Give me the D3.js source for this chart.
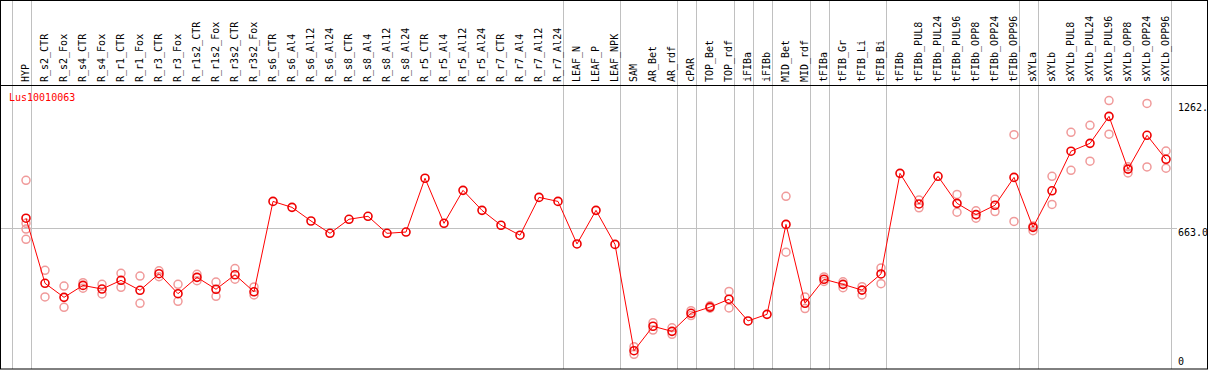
<!DOCTYPE html>
<html><head><meta charset="utf-8">
<script src="https://cdn.jsdelivr.net/npm/d3@7"></script>
<style>
html,body{margin:0;padding:0;background:#fff;}
svg{display:block;}
text{font-family:"DejaVu Sans Mono",monospace;font-size:10px;}
</style></head>
<body>
<svg id="c" width="1209" height="370"></svg>
<script>
const categories = ["HYP","R_s2_CTR","R_s2_Fox","R_s4_CTR","R_s4_Fox","R_r1_CTR","R_r1_Fox","R_r3_CTR","R_r3_Fox","R_r1s2_CTR","R_r1s2_Fox","R_r3s2_CTR","R_r3s2_Fox","R_s6_CTR","R_s6_Al4","R_s6_Al12","R_s6_Al24","R_s8_CTR","R_s8_Al4","R_s8_Al12","R_s8_Al24","R_r5_CTR","R_r5_Al4","R_r5_Al12","R_r5_Al24","R_r7_CTR","R_r7_Al4","R_r7_Al12","R_r7_Al24","LEAF_N","LEAF_P","LEAF_NPK","SAM","AR_Bet","AR_rdf","cPAR","TOP_Bet","TOP_rdf","iFIBa","iFIBb","MID_Bet","MID_rdf","tFIBa","tFIB_Gr","tFIB_Li","tFIB_Bi","tFIBb","tFIBb_PUL8","tFIBb_PUL24","tFIBb_PUL96","tFIBb_OPP8","tFIBb_OPP24","tFIBb_OPP96","sXYLa","sXYLb","sXYLb_PUL8","sXYLb_PUL24","sXYLb_PUL96","sXYLb_OPP8","sXYLb_OPP24","sXYLb_OPP96"];

const means = [709,403,337,393,376,417,370,448,354,431,375,443,363,788,760,696,638,704,718,638,644,897,685,840,746,676,629,807,788,588,746,586,86,201,177,262,291,328,226,257,680,309,422,398,371,447,920,776,906,779,726,770,901,666,838,1024,1061,1188,940,1099,986];

const replicates = [
  [887,685,658,610],[464,339],[390,290],[406,380],[398,353],[450,384],[437,309],[462,434],[398,318],[445,415],[409,342],[472,422],[386,348],
  [],[],[],[],[],[],[],[],[],[],[],[],[],[],[],[],[],[],[],
  [105,69],[218,183],[194,163],[274,251],[297,286],[365,287],[],[],[812,549],[339,284],[433,412],[410,382],[387,348],[475,401],
  [],[795,758],[],[821,737],[744,709],[798,740],[1102,694],
  [650,672],[906,774],[1113,934],[1146,977],[1262,1104],[951,922],[1249,950],[1025,944]
];

// groups end after these categories (vertical separators)
const groupEnds = ["HYP","R_r7_Al24","LEAF_NPK","AR_rdf","cPAR","TOP_rdf","iFIBa","iFIBb","MID_rdf","tFIBa","tFIB_Bi","tFIBb_OPP96","sXYLa","sXYLb_OPP96"];
const yMax = 1326;
const yTickLabels = ["1262.","663.0","0"];
const yTickValues = [1262, 663, 0];
const geneLabel = "Lus10010063";

const W = 1209, H = 370;
const svg = d3.select("#c");
const x = d3.scalePoint().domain(categories).range([26, 1166]);
const step = x.step();
const y = d3.scaleLinear().domain([0, yMax]).range([369, 87]);

// clip for right labels
svg.append("defs").append("clipPath").attr("id","clip")
  .append("rect").attr("x",0).attr("y",0).attr("width",1207).attr("height",369);

// grid lines
const gx = [x(categories[0]) - step + 4.5].concat(groupEnds.map(c => x(c) + 4.5));
svg.append("g").selectAll("line").data(gx).join("line")
  .attr("x1", d => Math.round(d) + 0.5).attr("x2", d => Math.round(d) + 0.5)
  .attr("y1", 0).attr("y2", 369)
  .attr("stroke", "#c0c0c0").attr("stroke-width", 1);
svg.append("line")
  .attr("x1", 0).attr("x2", 1177)
  .attr("y1", Math.round(y(663)) + 0.5).attr("y2", Math.round(y(663)) + 0.5)
  .attr("stroke", "#c0c0c0");

// header labels
svg.append("g").selectAll("text").data(categories).join("text")
  .attr("transform", d => `translate(${x(d) + 2.5},82) rotate(-90)`)
  .attr("fill", "#000")
  .text(d => d);

// frame
svg.append("line").attr("x1",0).attr("x2",1208).attr("y1",85.5).attr("y2",85.5).attr("stroke","#000");
svg.append("rect").attr("x",0.5).attr("y",0.5).attr("width",1207).attr("height",368.5)
  .attr("fill","none").attr("stroke","#000");

// right axis labels
const ax = svg.append("g").attr("clip-path","url(#clip)");
ax.selectAll("text").data(yTickValues).join("text")
  .attr("x", 1178)
  .attr("y", (d,i) => i === 2 ? 365 : y(d) + (i === 0 ? 10 : 8))
  .attr("fill","#000")
  .text((d,i) => yTickLabels[i]);

// gene label
svg.append("text").attr("x", 9).attr("y", 101).attr("fill", "#ff0000").text(geneLabel);

// replicate circles
const repData = [];
categories.forEach((c,i) => replicates[i].forEach(v => repData.push({c, v})));
svg.append("g").selectAll("circle").data(repData).join("circle")
  .attr("cx", d => x(d.c)).attr("cy", d => y(d.v)).attr("r", 4)
  .attr("fill","none").attr("stroke","#f09a9a").attr("stroke-width",1.5);

// mean line
const line = d3.line().x((d,i) => x(categories[i])).y(d => y(d));
svg.append("path").datum(means).attr("d", line)
  .attr("fill","none").attr("stroke","#ff0000").attr("stroke-width",1);

// mean circles
svg.append("g").selectAll("circle").data(means).join("circle")
  .attr("cx", (d,i) => x(categories[i])).attr("cy", d => y(d)).attr("r", 4)
  .attr("fill","none").attr("stroke","#ee0000").attr("stroke-width",1.6);
</script>
</body></html>
